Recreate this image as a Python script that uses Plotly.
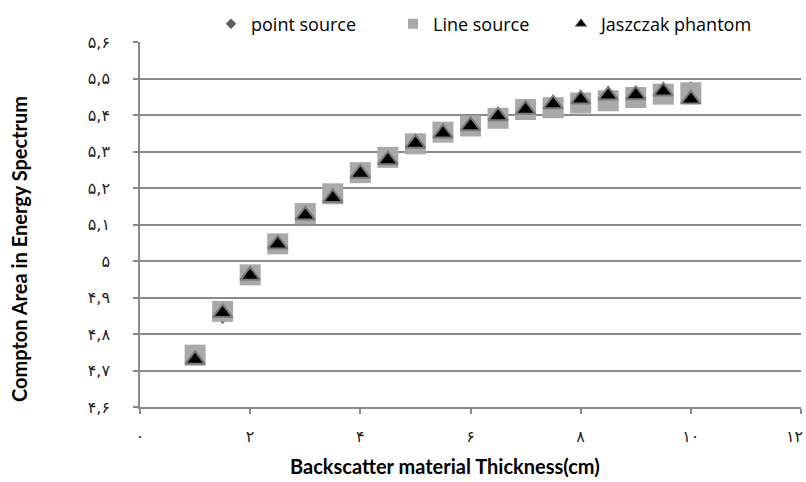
import plotly.graph_objects as go

# ---- data ----
thickness = [1, 1.5, 2, 2.5, 3, 3.5, 4, 4.5, 5, 5.5, 6, 6.5, 7, 7.5, 8, 8.5, 9, 9.5, 10]
point_source = [4.735, 4.840, 4.955, 5.035, 5.122, 5.170, 5.230, 5.278, 5.312, 5.342, 5.378, 5.395,
                5.412, 5.428, 5.440, 5.452, 5.457, 5.472, 5.480]
line_source = [4.742, 4.862, 4.962, 5.047, 5.130, 5.184, 5.242, 5.284, 5.321, 5.353, 5.370, 5.391,
               5.415, 5.420, 5.433, 5.439, 5.448, 5.457, 5.461]
jaszczak = [4.730, 4.858, 4.960, 5.046, 5.125, 5.173, 5.240, 5.277, 5.322, 5.350, 5.370, 5.397,
            5.415, 5.430, 5.443, 5.454, 5.455, 5.465, 5.443]

series_names = ["point source", "Line source", "Jaszczak phantom"]
y_tickvals = [4.6, 4.7, 4.8, 4.9, 5.0, 5.1, 5.2, 5.3, 5.4, 5.5, 5.6]
y_ticktext = ["۴,۶", "۴,۷", "۴,۸", "۴,۹", "۵", "۵,۱", "۵,۲", "۵,۳", "۵,۴", "۵,۵", "۵,۶"]
x_tickvals = [0, 2, 4, 6, 8, 10, 12]
x_ticktext = ["۰", "۲", "۴", "۶", "۸", "۱۰", "۱۲"]
x_title = "Backscatter material Thickness(cm)"
y_title = "Compton Area in Energy Spectrum"

GRID = "#8a8a8a"
TICKFONT = dict(family="DejaVu Sans", size=16, color="#222222")
fig = go.Figure()

# data traces
fig.add_trace(go.Scatter(x=thickness, y=point_source, mode="markers", showlegend=False,
                         marker=dict(symbol="diamond", size=7, color="#5f5f5f")))
fig.add_trace(go.Scatter(x=thickness, y=line_source, mode="markers", showlegend=False,
                         marker=dict(symbol="square", size=21, color="#a9a9a9",
                                     line=dict(width=0))))
fig.add_trace(go.Scatter(x=thickness, y=jaszczak, mode="markers", showlegend=False,
                         marker=dict(symbol="triangle-up", size=17, color="#000000",
                                     line=dict(width=2, color="#7a7a7a"))))

# legend-only traces (smaller symbols, like the reference legend)
fig.add_trace(go.Scatter(x=[None], y=[None], mode="markers", name=series_names[0], legend="legend",
                         marker=dict(symbol="diamond", size=8, color="#5f5f5f")))
fig.add_trace(go.Scatter(x=[None], y=[None], mode="markers", name=series_names[1], legend="legend2",
                         marker=dict(symbol="square", size=10, color="#a9a9a9")))
fig.add_trace(go.Scatter(x=[None], y=[None], mode="markers", name=series_names[2], legend="legend3",
                         marker=dict(symbol="triangle-up", size=10, color="#000000",
                                     line=dict(width=1, color="#7a7a7a"))))

leg_font = dict(family="'Open Sans', sans-serif", size=18, color="#000000")
leg_common = dict(orientation="h", xref="container", yref="container", yanchor="middle",
                  y=1 - 24 / 482, font=leg_font, bgcolor="rgba(0,0,0,0)", itemsizing="trace")

title_font = dict(family="Lato, 'Open Sans', sans-serif", size=20, color="#000000")

# the last x tick label sits at the right edge; draw it as a right-aligned text so it stays visible
x_ticktext_axis = x_ticktext[:-1] + [""]

fig.update_layout(
    width=806, height=482,
    margin=dict(l=139.5, r=5, t=42, b=75, autoexpand=False),
    paper_bgcolor="white", plot_bgcolor="white",
    showlegend=True,
    legend=dict(x=211 / 806, xanchor="left", **leg_common),
    legend2=dict(x=393 / 806, xanchor="left", **leg_common),
    legend3=dict(x=561 / 806, xanchor="left", **leg_common),
    xaxis=dict(range=[0, 12], tickvals=x_tickvals, ticktext=x_ticktext_axis, showgrid=False,
               zeroline=False, showline=True, linecolor=GRID, linewidth=1.5,
               ticks="outside", ticklen=5, tickcolor=GRID, tickwidth=1.5,
               ticklabelstandoff=9, automargin=False, tickfont=TICKFONT),
    yaxis=dict(range=[4.6, 5.6], tickvals=y_tickvals, ticktext=y_ticktext, showgrid=True,
               gridcolor=GRID, gridwidth=1.5, zeroline=False, showline=True, linecolor=GRID,
               linewidth=1.5, ticks="outside", ticklen=5, tickcolor=GRID, tickwidth=1.5,
               ticklabelstandoff=20, automargin=False, tickfont=TICKFONT),
    annotations=[
        dict(text="<b>" + x_title + "</b>", xref="paper", yref="paper",
             x=(445 - 139.5) / 661.5, y=-(466 - 407) / 365, xanchor="center", yanchor="middle",
             showarrow=False, font=title_font),
        dict(text="<b>" + y_title + "</b>", xref="paper", yref="paper", textangle=-90,
             x=(18.5 - 139.5) / 661.5, y=(407 - 249) / 365, xanchor="center", yanchor="middle",
             showarrow=False, font=title_font),
        dict(text=x_ticktext[-1], xref="x", yref="paper", x=x_tickvals[-1], y=-(436 - 407) / 365,
             xanchor="right", yanchor="middle", xshift=4, showarrow=False, font=TICKFONT),
    ],
)

fig.write_html("out.html", config={"displayModeBar": False},
               post_script="document.body.style.margin='0';")
